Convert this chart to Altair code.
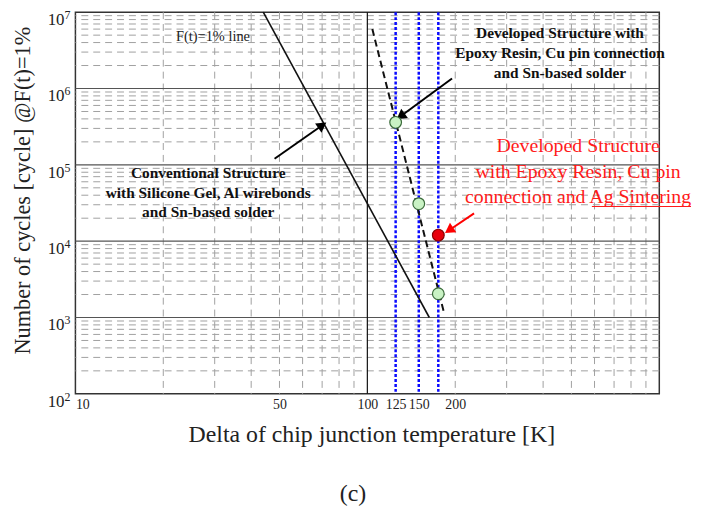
import altair as alt
import pandas as pd

# ---------------- data ----------------
x_minor = [20, 30, 40, 50, 60, 70, 80, 90, 200, 300, 400, 500, 600, 700, 800, 900]
y_minor = [m * 10 ** e for e in range(2, 7) for m in range(2, 10)]
x_major = [100]
y_major = [1e3, 1e4, 1e5, 1e6]
x_ticks = [10, 50, 100, 125, 150, 175, 200]
y_exponents = [2, 3, 4, 5, 6, 7]
dt_lines = [125, 150, 175]

conv_x = [44, 163]
conv_y = [1e7, 1e3]
dev_x = [104, 183]
dev_y = [6.0e6, 1160]
green_x = [125, 150, 175]
green_y = [3.6e5, 3.1e4, 2.05e3]
red_x = [175]
red_y = [1.2e4]

# arrows: start (x, y), end (x, y), head angle
arrows = [
    dict(x=48.1, y=1.2e5, x2=70.1, y2=3.3e5, angle=55, color="black"),
    dict(x=195, y=1.35e6, x2=130, y2=4.33e5, angle=234, color="black"),
    dict(x=232, y=2.31e4, x2=190.5, y2=1.39e4, angle=236, color="red"),
]

FONT = "Liberation Serif"
W, H = 589, 385

xs = alt.Scale(type="log", domain=[10, 1000], nice=False)
ys = alt.Scale(type="log", domain=[100, 1e7], nice=False)

one = pd.DataFrame({"a": [0]})

# ---------------- grid ----------------
vminor = alt.Chart(pd.DataFrame({"x": x_minor})).mark_rule(
    color="#a0a0a0", strokeDash=[7, 5], strokeWidth=1
).encode(
    x=alt.X("x:Q", scale=xs,
            axis=alt.Axis(values=x_ticks, title=None, grid=False, ticks=False, domain=False,
                          labelFont=FONT, labelFontSize=14, labelColor="#222",
                          labelPadding=4, labelFlush=True, format="d")),
)
hminor = alt.Chart(pd.DataFrame({"y": y_minor})).mark_rule(
    color="#a0a0a0", strokeDash=[7, 5], strokeWidth=1
).encode(
    y=alt.Y("y:Q", scale=ys, axis=alt.Axis(labels=False, ticks=False, domain=False,
                                           grid=False, title=None)),
)
hmajor = alt.Chart(pd.DataFrame({"y": y_major})).mark_rule(color="#555", strokeWidth=1.2).encode(
    y=alt.Y("y:Q", scale=ys)
)
vmajor = alt.Chart(pd.DataFrame({"x": x_major})).mark_rule(color="#111", strokeWidth=1.2).encode(
    x=alt.X("x:Q", scale=xs)
)

blue = alt.Chart(pd.DataFrame({"x": dt_lines})).mark_rule(
    color="#0a0aff", strokeDash=[3, 2], strokeWidth=2.5
).encode(x=alt.X("x:Q", scale=xs))

# ---------------- series ----------------
conv = alt.Chart(pd.DataFrame({"x": conv_x, "y": conv_y})).mark_line(
    color="#111", strokeWidth=1.6
).encode(x=alt.X("x:Q", scale=xs), y=alt.Y("y:Q", scale=ys))

dev = alt.Chart(pd.DataFrame({"x": dev_x, "y": dev_y})).mark_line(
    color="#111", strokeWidth=2, strokeDash=[7, 4]
).encode(x=alt.X("x:Q", scale=xs), y=alt.Y("y:Q", scale=ys))

green = alt.Chart(pd.DataFrame({"x": green_x, "y": green_y})).mark_point(
    shape="circle", filled=True, size=140, fill="#c9f2c4", stroke="#3a6a3a", strokeWidth=1.2, opacity=1
).encode(x=alt.X("x:Q", scale=xs), y=alt.Y("y:Q", scale=ys))

red = alt.Chart(pd.DataFrame({"x": red_x, "y": red_y})).mark_point(
    shape="circle", filled=True, size=140, fill="#e8000b", stroke="#8a0000", strokeWidth=1.2, opacity=1
).encode(x=alt.X("x:Q", scale=xs), y=alt.Y("y:Q", scale=ys))

# ---------------- arrows ----------------
adf = pd.DataFrame(arrows)
arrow_lines = alt.Chart(adf).mark_rule(strokeWidth=2).encode(
    x=alt.X("x:Q", scale=xs), y=alt.Y("y:Q", scale=ys),
    x2="x2:Q", y2="y2:Q",
    color=alt.Color("color:N", scale=None),
)
arrow_heads = alt.Chart(adf).mark_point(shape="triangle-up", filled=True, size=130, opacity=1).encode(
    x=alt.X("x2:Q", scale=xs), y=alt.Y("y2:Q", scale=ys),
    angle=alt.Angle("angle:Q", scale=None),
    color=alt.Color("color:N", scale=None),
)

# ---------------- y tick labels (10^n) ----------------
ylab = pd.DataFrame({"y": [10 ** e for e in y_exponents], "e": [str(e) for e in y_exponents]})
ybase = alt.Chart(ylab).mark_text(
    text="10", font=FONT, fontSize=17, align="right", baseline="middle", dy=8, color="#222"
).encode(x=alt.value(-11), y=alt.Y("y:Q", scale=ys))
yexp = alt.Chart(ylab).mark_text(
    font=FONT, fontSize=12, align="left", baseline="middle", dy=3, color="#222"
).encode(x=alt.value(-11), y=alt.Y("y:Q", scale=ys), text="e:N")

# ---------------- annotation texts ----------------
ann_ft = alt.Chart(pd.DataFrame({"x": [29.6], "y": [4.73e6]})).mark_text(
    text="F(t)=1% line", font=FONT, fontSize=14.5, color="#222"
).encode(x=alt.X("x:Q", scale=xs), y=alt.Y("y:Q", scale=ys))

ann_conv = alt.Chart(pd.DataFrame({"x": [28.5], "y": [7.87e4]})).mark_text(
    text=["Conventional Structure", "with Silicone Gel, Al wirebonds", "and Sn-based solder"],
    font=FONT, fontSize=15.5, fontWeight="bold", lineHeight=20, color="#111"
).encode(x=alt.X("x:Q", scale=xs), y=alt.Y("y:Q", scale=ys))

ann_dev = alt.Chart(pd.DataFrame({"x": [457], "y": [5.33e6]})).mark_text(
    text=["Developed Structure with", "Epoxy Resin, Cu pin connection", "and Sn-based solder"],
    font=FONT, fontSize=15.5, fontWeight="bold", lineHeight=20, color="#111"
).encode(x=alt.X("x:Q", scale=xs), y=alt.Y("y:Q", scale=ys))

ann_red = alt.Chart(pd.DataFrame({"x": [527], "y": [1.77e5]})).mark_text(
    text=["Developed Structure", "with Epoxy Resin, Cu pin", "connection and Ag Sintering"],
    font=FONT, fontSize=20, lineHeight=26, color="#ff1a1a"
).encode(x=alt.X("x:Q", scale=xs), y=alt.Y("y:Q", scale=ys))

underline = alt.Chart(one).mark_rule(color="#ff1a1a", strokeWidth=1.2).encode(
    x=alt.value(521), x2=alt.value(621), y=alt.value(196)
)

# ---------------- titles ----------------
ytitle = alt.Chart(one).mark_text(
    text="Number of cycles [cycle] @F(t)=1%", font=FONT, fontSize=22.5, angle=270, color="#222"
).encode(x=alt.value(-53), y=alt.value(180))
xtitle = alt.Chart(one).mark_text(
    text="Delta of chip junction temperature [K]", font=FONT, fontSize=24, color="#222"
).encode(x=alt.value(299), y=alt.value(427))
ctitle = alt.Chart(one).mark_text(
    text="(c)", font=FONT, fontSize=24, color="#222"
).encode(x=alt.value(280), y=alt.value(486))

chart = alt.layer(
    vminor, hminor, hmajor, vmajor, blue, conv, dev, arrow_lines, arrow_heads,
    green, red, ybase, yexp, ann_ft, ann_conv, ann_dev, ann_red, underline,
    ytitle, xtitle, ctitle,
).properties(
    width=W, height=H,
    autosize=alt.AutoSizeParams(type="none"),
    padding={"left": 68, "top": 2, "right": 34, "bottom": 118},
    background="white",
).configure_view(stroke="#333", strokeWidth=1.5)

chart.save("out.html", embed_options={"renderer": "svg", "actions": False})
